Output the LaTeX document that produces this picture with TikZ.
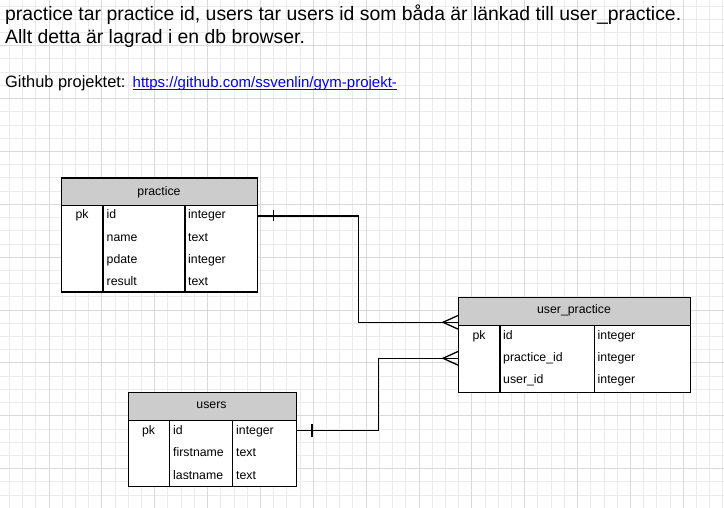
\documentclass[tikz,border=0pt]{standalone}
\usepackage{fontspec}
\setmainfont{Liberation Sans}
\definecolor{gridminor}{HTML}{EBEBEB}
\definecolor{gridmajor}{HTML}{D9D9D9}
\definecolor{hdr}{HTML}{CCCCCC}
\definecolor{linkblue}{HTML}{0000EE}
\newcommand{\tblfont}{\fontsize{12.3}{14}\selectfont}
\begin{document}
\begin{tikzpicture}[x=1pt,y=-1pt,
  minorline/.style={draw=gridminor,line width=1pt},
  majorline/.style={draw=gridmajor,line width=1pt},
  hdrbox/.style={draw=black,fill=hdr,line width=1.4pt,inner sep=0,anchor=north west},
  bodybox/.style={draw=black,fill=white,line width=1.4pt,inner sep=0,anchor=north west},
  coldiv/.style={draw=black,line width=1.2pt},
  cell/.style={anchor=base west,inner sep=0,font=\tblfont},
  pkcell/.style={anchor=base,inner sep=0,font=\tblfont},
  title/.style={anchor=base,inner sep=0,font=\tblfont},
  conn/.style={draw=black,line width=1.3pt},
  toptext/.style={anchor=base west,inner sep=0,font=\fontsize{19.4}{23}\selectfont}
]
\useasboundingbox (0,0) rectangle (724,508);
\fill[white] (0,0) rectangle (724,508);
% grid
\foreach \i in {0,...,54} {
  \draw[minorline] ({9.355+13.215*\i},0) -- ({9.355+13.215*\i},508);
}
\foreach \i in {0,...,38} {
  \draw[minorline] (0,{6.135+13.215*\i}) -- (724,{6.135+13.215*\i});
}
\foreach \i in {0,...,13} {
  \draw[majorline] ({49-52.86+52.86*\i},0) -- ({49-52.86+52.86*\i},508);
}
\foreach \i in {0,...,10} {
  \draw[majorline] (0,{45.78-52.86+52.86*\i}) -- (724,{45.78-52.86+52.86*\i});
}
% top text
\node[toptext] (t1) at (5,21) {practice tar practice id, users tar users id som båda är länkad till user\_practice.};
\node[toptext] (t2) at (5,44) {Allt detta är lagrad i en db browser.};
\node[anchor=base west,inner sep=0,font=\fontsize{16.4}{19}\selectfont] (gh) at (5,87.5) {Github projektet:};
\node[anchor=base west,inner sep=0,font=\fontsize{15}{18}\selectfont,text=linkblue] (link) at (132.5,87.5) {https://github.com/ssvenlin/gym-projekt-};
\draw[linkblue,line width=0.8pt] ([yshift=-2.2pt]link.base west) -- ([yshift=-2.2pt]link.base east);

% practice table
\node[hdrbox,minimum width=196pt,minimum height=27.5pt] (practiceH) at (61,177.5) {};
\node[bodybox,minimum width=196pt,minimum height=86.5pt] (practiceB) at (61,205) {};
\draw[coldiv] (103,205) -- (103,291.5);
\draw[coldiv] (185,205) -- (185,291.5);
\node[title] (practiceT) at (159,195.5) {practice};
\node[pkcell] (ppk) at (82,219) {pk};
\node[cell] (pid) at (106.5,219) {id};
\node[cell] (pidt) at (188,219) {integer};
\node[cell] (pname) at (106.5,241.5) {name};
\node[cell] (pnamet) at (188,241.5) {text};
\node[cell] (pdate) at (106.5,263.5) {pdate};
\node[cell] (pdatet) at (188,263.5) {integer};
\node[cell] (pres) at (106.5,285.5) {result};
\node[cell] (prest) at (188,285.5) {text};

% user_practice table
\node[hdrbox,minimum width=231.5pt,minimum height=28pt] (upH) at (458,297) {};
\node[bodybox,minimum width=231.5pt,minimum height=66.5pt] (upB) at (458,325) {};
\draw[coldiv] (500,325) -- (500,391.5);
\draw[coldiv] (594.5,325) -- (594.5,391.5);
\node[title] (upT) at (574,313.5) {user\_practice};
\node[pkcell] (uppk) at (479,339.5) {pk};
\node[cell] (upid) at (503,339.5) {id};
\node[cell] (upidt) at (597.5,339.5) {integer};
\node[cell] (uppid) at (503,361.5) {practice\_id};
\node[cell] (uppidt) at (597.5,361.5) {integer};
\node[cell] (upuid) at (503,383.5) {user\_id};
\node[cell] (upuidt) at (597.5,383.5) {integer};

% users table
\node[hdrbox,minimum width=168pt,minimum height=28pt] (usersH) at (127.5,391.5) {};
\node[bodybox,minimum width=168pt,minimum height=66.5pt] (usersB) at (127.5,419.5) {};
\draw[coldiv] (169.5,419.5) -- (169.5,486);
\draw[coldiv] (232.5,419.5) -- (232.5,486);
\node[title] (usersT) at (211.5,408.5) {users};
\node[pkcell] (upk) at (148.5,434.5) {pk};
\node[cell] (uid) at (173,434.5) {id};
\node[cell] (uidt) at (236,434.5) {integer};
\node[cell] (ufn) at (173,456.5) {firstname};
\node[cell] (ufnt) at (236,456.5) {text};
\node[cell] (uln) at (173,479) {lastname};
\node[cell] (ulnt) at (236,479) {text};

% connectors
\coordinate (cpid) at (practiceB.east |- 0,216);
\coordinate (cuppid) at (458,322.3);
\coordinate (cuid) at (usersB.east |- 0,430.5);
\coordinate (cupuid) at (458,358.3);

\draw[conn] (cpid) -- ++(100.3,0) |- (cuppid);
\draw[conn] (cpid) ++(15,-5.5) -- ++(0,11);
\draw[conn] (cuppid) ++(0,-6.8) -- ++(-15,6.8) -- ++(15,6.8);

\draw[conn] (cuid) -- ++(81.5,0) |- (cupuid);
\draw[conn] (cuid) ++(15,-6.5) -- ++(0,13);
\draw[conn] (cupuid) ++(0,-6.8) -- ++(-15,6.8) -- ++(15,6.8);
\end{tikzpicture}
\end{document}
